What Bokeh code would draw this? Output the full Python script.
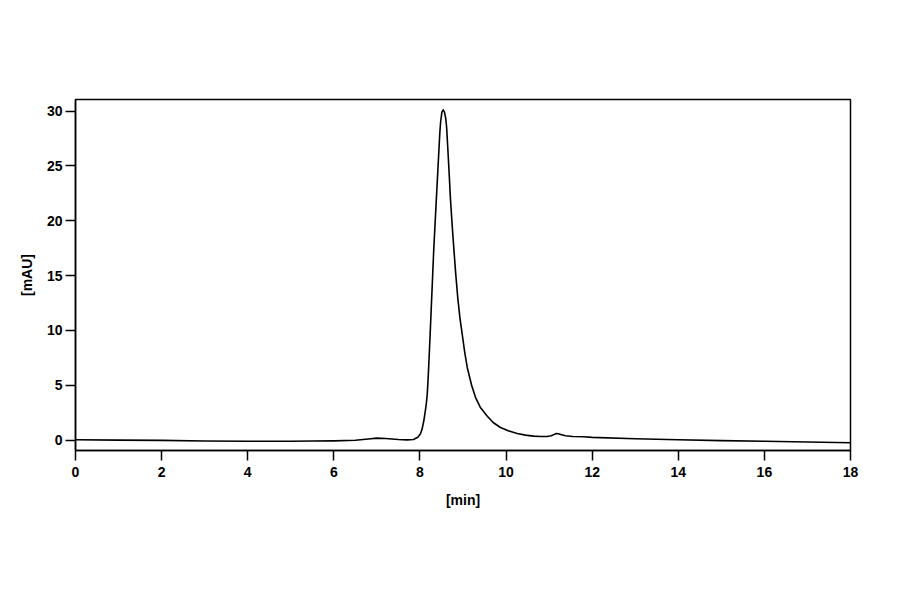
from bokeh.plotting import figure
from bokeh.models import FixedTicker, Range1d
from bokeh.embed import file_html
from bokeh.resources import INLINE

# Chromatogram trace
time_min = [0.0, 1.0, 2.0, 3.0, 4.0, 5.0, 5.5, 6.0, 6.5, 6.8, 7.0, 7.2, 7.5, 7.7,
            7.85, 7.95, 8.01, 8.05, 8.09, 8.13, 8.15, 8.17, 8.19, 8.22, 8.245,
            8.27, 8.32, 8.38, 8.44, 8.46, 8.48, 8.51, 8.54, 8.57, 8.60, 8.62,
            8.65, 8.68, 8.71, 8.75, 8.79, 8.83, 8.88, 8.93, 8.98, 9.04, 9.10,
            9.20, 9.29, 9.40, 9.56, 9.70, 9.87, 10.05, 10.26, 10.45, 10.64,
            10.80, 10.95, 11.05, 11.12, 11.17, 11.22, 11.27, 11.38, 11.55,
            11.8, 12.0, 13.0, 14.0, 15.0, 16.0, 17.0, 18.0]
absorbance_mau = [0.03, 0.0, -0.03, -0.08, -0.1, -0.1, -0.09, -0.07, -0.02, 0.1,
                  0.18, 0.15, 0.05, 0.02, 0.05, 0.25, 0.55, 1.0, 1.76, 2.8,
                  3.4, 4.2, 5.6, 8.15, 10.4, 12.7, 17.3, 21.9, 26.4, 27.9,
                  29.0, 29.9, 30.1, 29.9, 29.3, 28.5, 26.4, 24.2, 21.9, 19.5,
                  17.3, 15.2, 12.9, 11.1, 9.7, 8.0, 6.6, 5.0, 3.9, 3.0, 2.2,
                  1.6, 1.15, 0.85, 0.6, 0.45, 0.36, 0.33, 0.33, 0.4, 0.52,
                  0.6, 0.57, 0.5, 0.39, 0.33, 0.3, 0.25, 0.12, 0.03, -0.05,
                  -0.11, -0.18, -0.25]

x_ticks = [0, 2, 4, 6, 8, 10, 12, 14, 16, 18]
y_ticks = [0, 5, 10, 15, 20, 25, 30]
x_label = "[min]"
y_label = "[mAU]"

p = figure(width=884, height=578, output_backend="svg", toolbar_location=None,
           x_range=Range1d(0, 18), y_range=Range1d(-0.95, 31.05),
           min_border_left=75, min_border_right=34, min_border_top=99,
           min_border_bottom=128)
p.background_fill_color = "white"
p.border_fill_color = "white"
p.outline_line_color = "black"
p.outline_line_width = 1.5
p.grid.visible = False

p.line(time_min, absorbance_mau, line_color="black", line_width=1.6,
       line_join="round")

font = "Liberation Sans"
for ax, ticks, lab in ((p.xaxis[0], x_ticks, x_label), (p.yaxis[0], y_ticks, y_label)):
    ax.ticker = FixedTicker(ticks=ticks)
    ax.minor_tick_line_color = None
    ax.major_tick_in = 0
    ax.major_tick_out = 10
    ax.major_tick_line_width = 1.5
    ax.major_tick_line_color = "black"
    ax.axis_line_width = 1.5
    ax.axis_line_color = "black"
    ax.major_label_text_font = font
    ax.major_label_text_font_style = "bold"
    ax.major_label_text_font_size = "14px"
    ax.major_label_text_color = "black"
    ax.axis_label = lab
    ax.axis_label_text_font = font
    ax.axis_label_text_font_style = "bold"
    ax.axis_label_text_font_size = "14px"
    ax.axis_label_text_color = "black"

p.xaxis.major_label_standoff = 6
p.xaxis.axis_label_standoff = 12
p.yaxis.major_label_standoff = 3
p.yaxis.axis_label_standoff = 9

open("out.html", "w").write(file_html(p, INLINE))
